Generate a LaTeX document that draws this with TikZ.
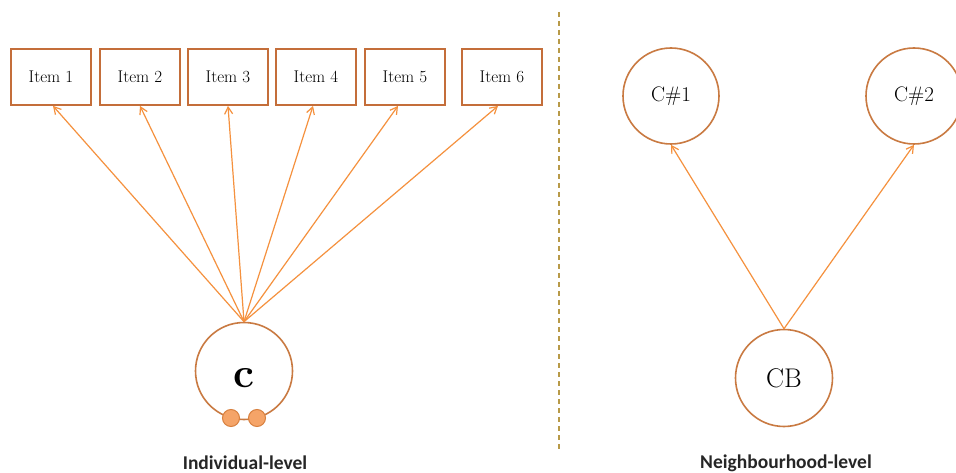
\documentclass[tikz,border=0pt]{standalone}
\usepackage{fontspec}
\newfontfamily\labelfont{Carlito}
\usetikzlibrary{arrows.meta}
\definecolor{boxedge}{HTML}{C46E3A}
\definecolor{ringedge}{HTML}{C97A42}
\definecolor{pathline}{HTML}{F5913E}
\definecolor{divider}{HTML}{B89A48}
\definecolor{dotfill}{HTML}{F5A468}
\definecolor{dotedge}{HTML}{D8803F}
\tikzset{
  itembox/.style={draw=boxedge, line width=1.8pt, minimum width=80pt, minimum height=56pt,
    inner sep=0pt, font=\fontsize{17}{18}\selectfont},
  latent/.style={circle, draw=ringedge, line width=1.6pt, inner sep=0pt},
  loading/.style={draw=pathline, line width=1.2pt, -{Straight Barb[length=7pt,width=8pt,line width=1.2pt]}},
  resid/.style={circle, draw=dotedge, fill=dotfill, line width=1pt, minimum size=17pt, inner sep=0pt},
  levellabel/.style={font=\labelfont\bfseries\fontsize{19.5}{20}\selectfont, text=black!85},
}
\begin{document}
\begin{tikzpicture}[x=1pt,y=-1pt]
  \useasboundingbox (0,0) rectangle (956,473);
  \fill[white] (0,0) rectangle (956,473);

  % indicator boxes
  \node[itembox] (i1) at (51,77)  {Item 1};
  \node[itembox] (i2) at (140,77) {Item 2};
  \node[itembox] (i3) at (228,77) {Item 3};
  \node[itembox] (i4) at (316,77) {Item 4};
  \node[itembox] (i5) at (405,77) {Item 5};
  \node[itembox] (i6) at (502,77) {Item 6};

  % individual-level factor with its two residual dots
  \node[latent, minimum size=97pt] (c) at (244,371) {};
  \node[font=\fontsize{42}{42}\selectfont\bfseries, inner sep=0pt] (ctext) at ([yshift=-7pt]c.center) {c};
  \node[resid] (e1) at (231,418) {};
  \node[resid] (e2) at (257,418) {};

  \foreach \k/\dx in {1/2,2/0,3/0,4/-3,5/-7,6/-4} {
    \draw[loading] (c.north) -- ([xshift=\dx pt]i\k.south);
  }

  % divider
  \coordinate (dtop) at (559,12);
  \coordinate (dbot) at (559,452);
  \draw[divider, line width=1.3pt, dash pattern=on 5pt off 4pt] (dtop) -- (dbot);

  % neighbourhood-level factors
  \node[latent, minimum size=96pt, font=\fontsize{21}{21}\selectfont] (c1) at (671,96) {C\#1};
  \node[latent, minimum size=96pt, font=\fontsize{21}{21}\selectfont] (c2) at (914,96) {C\#2};
  \node[latent, minimum size=97pt, font=\fontsize{27}{27}\selectfont] (cb) at (784,378) {CB};
  \draw[loading] (cb.north) -- (c1.south);
  \draw[loading] (cb.north) -- (c2.south);

  % level labels
  \node[levellabel] (l1) at (245,463) {Individual-level};
  \node[levellabel] (l2) at (786,463) {Neighbourhood-level};
\end{tikzpicture}
\end{document}
